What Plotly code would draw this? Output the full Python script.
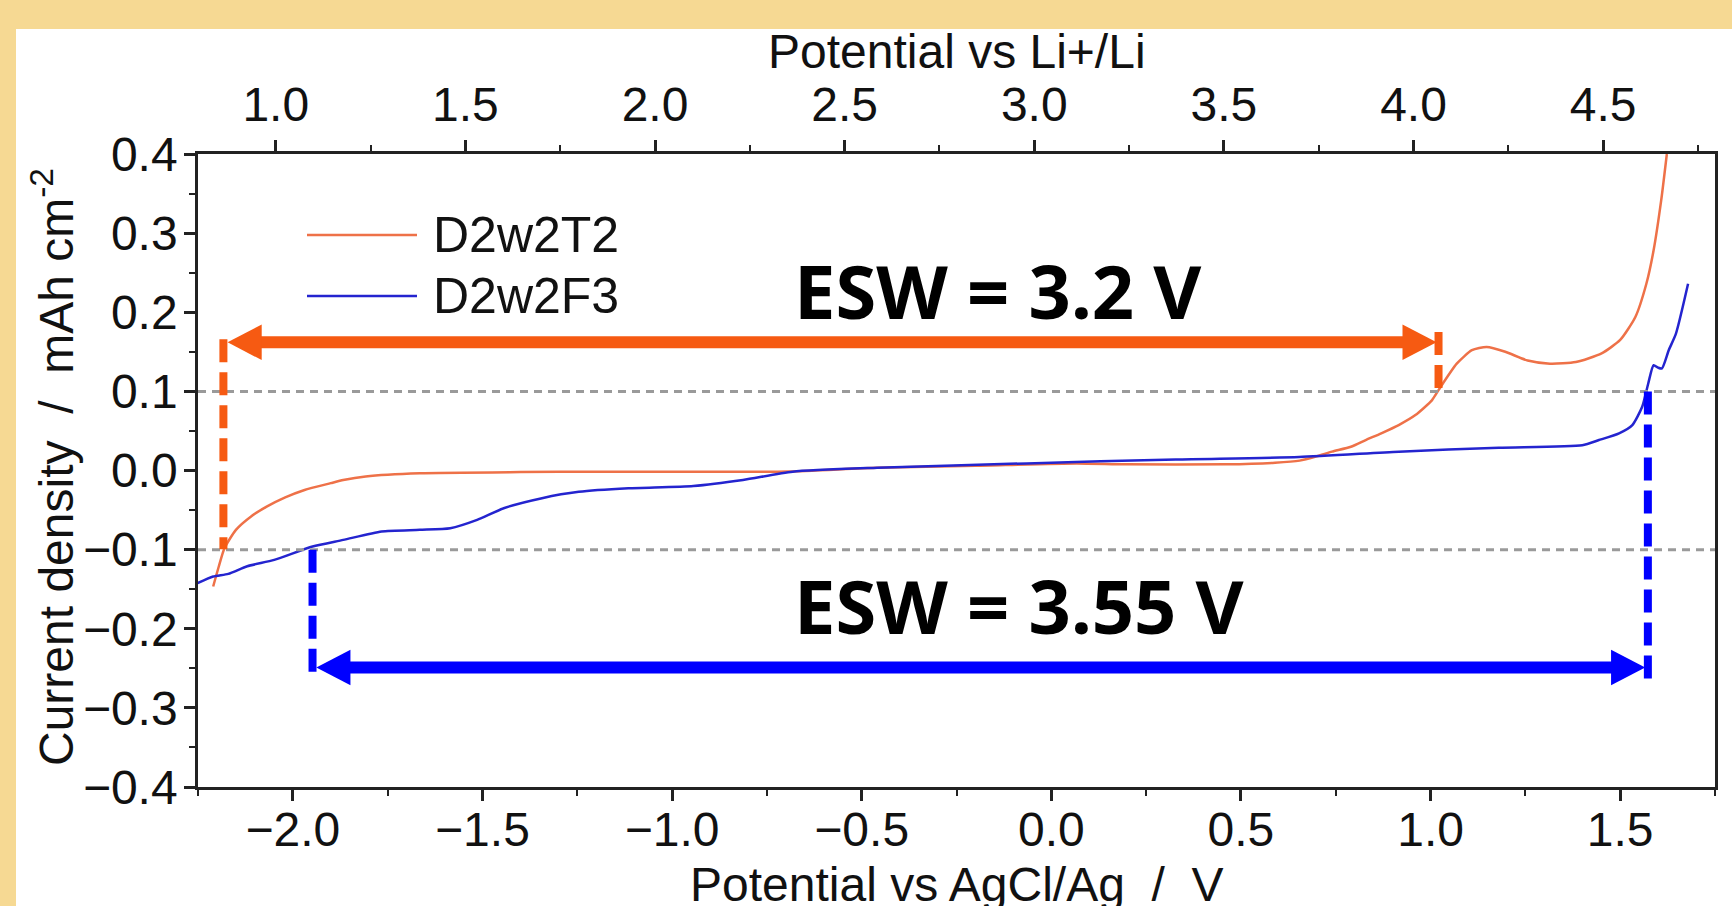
import plotly.graph_objects as go

# ---------------- data ----------------
series_names = ["D2w2T2", "D2w2F3"]

# D2w2T2 (orange): potential vs AgCl/Ag (V), current density
t2_x = [-2.210, -2.195, -2.180, -2.150, -2.110, -2.069, -2.020, -1.969, -1.900,
        -1.867, -1.808, -1.665, -1.400, -1.193, -0.950, -0.695, -0.460, -0.200,
        0.066, 0.196, 0.460, 0.590, 0.655, 0.700, 0.740, 0.790, 0.829, 0.870,
        0.916, 0.960, 1.004, 1.021, 1.069, 1.109, 1.148, 1.197, 1.256, 1.315,
        1.383, 1.451, 1.500, 1.540, 1.569, 1.588, 1.608, 1.623]
t2_y = [-0.1466, -0.121, -0.098, -0.075, -0.058, -0.0457, -0.034, -0.0246, -0.016,
        -0.012, -0.0075, -0.0035, -0.002, -0.0015, -0.0015, -0.0012, 0.0035, 0.006,
        0.009, 0.0078, 0.0078, 0.0098, 0.0125, 0.018, 0.0238, 0.030, 0.0385, 0.047,
        0.0574, 0.070, 0.089, 0.1016, 0.135, 0.152, 0.156, 0.150, 0.139, 0.135,
        0.137, 0.148, 0.165, 0.194, 0.236, 0.278, 0.341, 0.400]

# D2w2F3 (blue)
f3_x = [-2.251, -2.210, -2.170, -2.120, -2.049, -1.948, -1.867, -1.766, -1.665,
        -1.585, -1.514, -1.444, -1.343, -1.246, -1.115, -0.944, -0.813, -0.682,
        -0.459, -0.065, 0.328, 0.653, 0.916, 1.180, 1.400, 1.444, 1.497, 1.532,
        1.558, 1.574, 1.588, 1.600, 1.610, 1.628, 1.647, 1.679]
f3_y = [-0.1424, -0.134, -0.1306, -0.121, -0.113, -0.096, -0.0877, -0.077, -0.075,
        -0.073, -0.0625, -0.0477, -0.035, -0.027, -0.0225, -0.0196, -0.012, -0.0015,
        0.0035, 0.009, 0.014, 0.017, 0.0238, 0.0288, 0.032, 0.0385, 0.047, 0.0574,
        0.0805, 0.110, 0.133, 0.130, 0.129, 0.152, 0.173, 0.236]

ref_levels = [0.1, -0.1]                 # dashed gray reference currents
esw_t2 = [-2.183, 1.021]                 # ESW limits of D2w2T2
esw_f3 = [-1.948, 1.573]                 # ESW limits of D2w2F3
esw_labels = ["ESW = 3.2 V", "ESW = 3.55 V"]
li_offset = 3.045                        # Li+/Li scale = AgCl/Ag + offset

x_range = [-2.25, 1.75]
y_range = [-0.4, 0.4]

# ---------------- styling ----------------
W, H = 1732, 906
ML, MR, MT, MB = 198, 17, 154, 119
PW, PH = W - ML - MR, H - MT - MB
C_T2, C_F3 = "#EE7148", "#2424CF"
C_AR_O, C_AR_B = "#F65A12", "#0000FF"
AX = "#222222"
FONT = "Liberation Sans, Arial, sans-serif"
BIGFONT = "Noto Sans, Open Sans, sans-serif"
FS = 48

def px_x(p):  # pixel -> paper
    return (p - ML) / PW

def px_y(p):
    return (H - MB - p) / PH

fig = go.Figure()
fig.add_trace(go.Scatter(x=t2_x, y=t2_y, mode="lines", name=series_names[0],
                         line=dict(color=C_T2, width=2.5, shape="spline", smoothing=0.6),
                         showlegend=False))
fig.add_trace(go.Scatter(x=f3_x, y=f3_y, mode="lines", name=series_names[1],
                         line=dict(color=C_F3, width=2.5, shape="spline", smoothing=0.6),
                         showlegend=False))
# carrier for the Li+/Li top axis
fig.add_trace(go.Scatter(x=[x_range[0] + li_offset], y=[None], xaxis="x2", mode="lines",
                         showlegend=False, hoverinfo="skip"))

shapes = []
# white panel
shapes.append(dict(type="rect", xref="paper", yref="paper", layer="below",
                   x0=px_x(16), x1=1.05, y0=-0.3, y1=px_y(29),
                   fillcolor="white", line=dict(width=0)))
# reference dashed lines
for lv in ref_levels:
    shapes.append(dict(type="line", xref="paper", yref="y", x0=0, x1=1, y0=lv, y1=lv,
                       line=dict(color="#9a9a9a", width=3, dash="8px,6px")))

# ESW markers
y_ar_o, y_ar_b = 0.162, -0.249
head_len, head_half = 0.09, 0.0225
dash = "23px,10px"
shapes += [
    dict(type="line", xref="x", yref="y", x0=esw_t2[0], x1=esw_t2[0], y0=0.166, y1=-0.0995,
         line=dict(color=C_AR_O, width=8, dash=dash)),
    dict(type="line", xref="x", yref="y", x0=esw_t2[1], x1=esw_t2[1], y0=0.175, y1=0.1,
         line=dict(color=C_AR_O, width=8, dash=dash)),
    dict(type="line", xref="x", yref="y", x0=esw_f3[0], x1=esw_f3[0], y0=-0.1, y1=-0.267,
         line=dict(color=C_AR_B, width=8, dash=dash)),
    dict(type="line", xref="x", yref="y", x0=esw_f3[1], x1=esw_f3[1], y0=0.1, y1=-0.264,
         line=dict(color=C_AR_B, width=8, dash=dash)),
]

def arrow(xl, xr, y, color):
    out = [dict(type="line", xref="x", yref="y", x0=xl + head_len * 0.9, x1=xr - head_len * 0.9,
                y0=y, y1=y, line=dict(color=color, width=12))]
    out.append(dict(type="path", xref="x", yref="y", fillcolor=color, line=dict(width=0),
                    path=f"M {xl},{y} L {xl + head_len},{y + head_half} L {xl + head_len},{y - head_half} Z"))
    out.append(dict(type="path", xref="x", yref="y", fillcolor=color, line=dict(width=0),
                    path=f"M {xr},{y} L {xr - head_len},{y + head_half} L {xr - head_len},{y - head_half} Z"))
    return out

shapes += arrow(esw_t2[0] + 0.011, esw_t2[1] - 0.005, y_ar_o, C_AR_O)
shapes += arrow(esw_f3[0] + 0.010, esw_f3[1] - 0.007, y_ar_b, C_AR_B)

# manual legend
leg_y = [px_y(235), px_y(296)]
for i, c in enumerate([C_T2, C_F3]):
    shapes.append(dict(type="line", xref="paper", yref="paper", x0=px_x(307), x1=px_x(417),
                       y0=leg_y[i], y1=leg_y[i], line=dict(color=c, width=2.5)))

annotations = []
for i, nm in enumerate(series_names):
    annotations.append(dict(xref="paper", yref="paper", x=px_x(431), y=leg_y[i], text=nm,
                            showarrow=False, xanchor="left", yanchor="middle",
                            font=dict(family=FONT, size=50, color="#111")))

annotations.append(dict(xref="x", yref="y", x=-0.684, y=0.228, text=esw_labels[0],
                        showarrow=False, xanchor="left", yanchor="middle",
                        font=dict(family=BIGFONT, size=74, color="#000", weight="bold")))
annotations.append(dict(xref="x", yref="y", x=-0.684, y=-0.170, text=esw_labels[1],
                        showarrow=False, xanchor="left", yanchor="middle",
                        font=dict(family=BIGFONT, size=74, color="#000", weight="bold")))

# axis titles
annotations.append(dict(xref="paper", yref="paper", x=px_x(53), y=px_y(467),
                        text="Current density\u00a0\u00a0/\u00a0\u00a0mAh cm<sup>-2</sup>",
                        textangle=-90, showarrow=False, xanchor="center", yanchor="middle",
                        font=dict(family=FONT, size=FS, color="#111")))
annotations.append(dict(xref="paper", yref="paper", x=0.5, y=px_y(884),
                        text="Potential vs AgCl/Ag\u00a0\u00a0/\u00a0\u00a0V",
                        showarrow=False, xanchor="center", yanchor="middle",
                        font=dict(family=FONT, size=FS, color="#111")))
annotations.append(dict(xref="paper", yref="paper", x=0.5, y=px_y(51),
                        text="Potential vs Li+/Li",
                        showarrow=False, xanchor="center", yanchor="middle",
                        font=dict(family=FONT, size=FS, color="#111")))

axis_common = dict(showgrid=False, zeroline=False, showline=True, linecolor=AX, linewidth=2.5,
                   ticks="outside", ticklen=11, tickwidth=2.5, tickcolor=AX,
                   tickformat=".1f", tickfont=dict(family=FONT, size=FS, color="#111"))

fig.update_layout(
    width=W, height=H, autosize=False,
    margin=dict(l=ML, r=MR, t=MT, b=MB, pad=0),
    paper_bgcolor="#F6D993", plot_bgcolor="white",
    shapes=shapes, annotations=annotations, showlegend=False,
    xaxis=dict(range=x_range, tick0=0, dtick=0.5, mirror=False, ticklabelstandoff=-12,
               minor=dict(dtick=0.25, tick0=0, ticks="outside", ticklen=6, tickwidth=2, tickcolor=AX),
               **axis_common),
    xaxis2=dict(range=[x_range[0] + li_offset, x_range[1] + li_offset], overlaying="x",
                side="top", anchor="y", tick0=0, dtick=0.5,
                minor=dict(dtick=0.25, tick0=0, ticks="outside", ticklen=6, tickwidth=2, tickcolor=AX),
                **axis_common),
    yaxis=dict(range=y_range, tick0=0, dtick=0.1, mirror=True, ticklabelstandoff=-3,
               minor=dict(dtick=0.05, tick0=0, ticks="outside", ticklen=6, tickwidth=2, tickcolor=AX),
               **axis_common),
)

fig.write_html("out.html", config={"displayModeBar": False},
               post_script="document.body.style.margin='0';document.body.style.overflow='hidden';")
